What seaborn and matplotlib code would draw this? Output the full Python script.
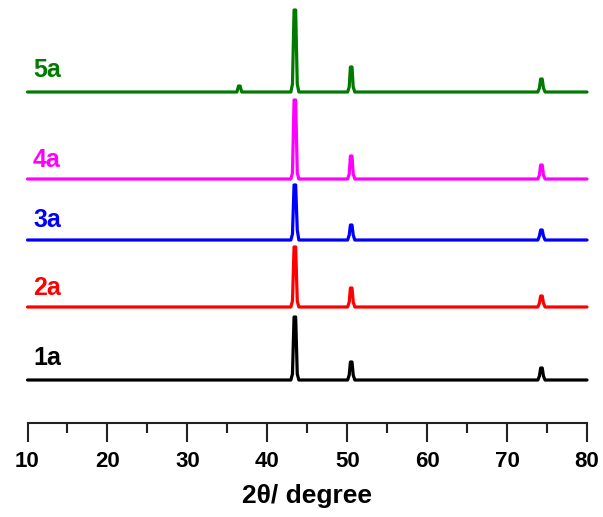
import numpy as np
import pandas as pd
import matplotlib
matplotlib.use("Agg")
import matplotlib.pyplot as plt
import seaborn as sns
from matplotlib.ticker import MultipleLocator

# ---- data (intensity in arbitrary units) ----
two_theta = [10, 36.2, 36.4, 36.6, 36.8, 42.95, 43.15, 43.35, 43.55, 43.75, 43.95,
             50.05, 50.25, 50.4, 50.6, 50.75, 50.95,
             73.85, 74.05, 74.2, 74.4, 74.55, 74.75, 80]

int_1a = [0, 0, 0, 0, 0, 0, 6, 63, 63, 6, 0, 0, 5, 18, 18, 5, 0, 0, 4, 12, 12, 4, 0, 0]
int_2a = [0, 0, 0, 0, 0, 0, 6, 60, 60, 6, 0, 0, 5, 19, 19, 5, 0, 0, 4, 11, 11, 4, 0, 0]
int_3a = [0, 0, 0, 0, 0, 0, 6, 55, 55, 10, 0, 0, 5, 15, 15, 5, 0, 0, 4, 10, 10, 4, 0, 0]
int_4a = [0, 0, 0, 0, 0, 0, 6, 79, 79, 6, 0, 0, 5, 23, 23, 5, 0, 0, 4, 14, 14, 4, 0, 0]
int_5a = [0, 0, 6, 6, 0, 0, 8, 82, 82, 8, 0, 0, 5, 25, 25, 5, 0, 0, 4, 13, 13, 4, 0, 0]

samples = ["1a", "2a", "3a", "4a", "5a"]
series = [int_1a, int_2a, int_3a, int_4a, int_5a]
offsets = [43, 116, 183, 244, 331]
label_y = [65, 135, 203, 263, 353]
colors = ["#000000", "#FF0000", "#0000FF", "#FF00FF", "#007A00"]

xticks = [10, 20, 30, 40, 50, 60, 70, 80]

rows = []
for s, vals, off in zip(samples, series, offsets):
    for x, v in zip(two_theta, vals):
        rows.append({"two_theta": x, "y": v + off, "sample": s})
df = pd.DataFrame(rows)

sns.set_style("white")
plt.rcParams["font.family"] = ["Liberation Sans", "DejaVu Sans"]
plt.rcParams["font.weight"] = "bold"
plt.rcParams["text.color"] = "black"
plt.rcParams["xtick.color"] = "#222222"
plt.rcParams["xtick.labelcolor"] = "black"
plt.rcParams["axes.labelcolor"] = "black"

fig = plt.figure(figsize=(6.03, 5.17), dpi=100)
ax = fig.add_axes([27.5 / 603, (517 - 423) / 517, 559.5 / 603, 420 / 517])

sns.lineplot(data=df, x="two_theta", y="y", hue="sample",
             palette=dict(zip(samples, colors)), linewidth=2.3,
             legend=False, ax=ax, sort=False, estimator=None)
for ln in ax.lines:
    ln.set_clip_on(False)

for s, c, ly in zip(samples, colors, label_y):
    ax.text(10.7, ly, s, color=c, fontsize=18, fontweight="bold",
            ha="left", va="center")

ax.set_xlim(10, 80)
ax.set_ylim(0, 420)
ax.set_xticks(xticks)
ax.set_xticklabels([str(t) for t in xticks], fontsize=16, fontweight="bold")
ax.xaxis.set_minor_locator(MultipleLocator(5))
ax.tick_params(axis="x", which="major", direction="out", length=14, width=1.5,
               bottom=True, pad=6)
ax.tick_params(axis="x", which="minor", direction="out", length=7, width=1.5,
               bottom=True)
ax.set_yticks([])
for side in ["top", "left", "right"]:
    ax.spines[side].set_visible(False)
ax.spines["bottom"].set_color("#222222")
ax.spines["bottom"].set_linewidth(1.5)
ax.set_xlabel("2θ/ degree", fontsize=19, fontweight="bold", labelpad=9)
ax.set_ylabel("")

fig.savefig("out.png", dpi=100)
